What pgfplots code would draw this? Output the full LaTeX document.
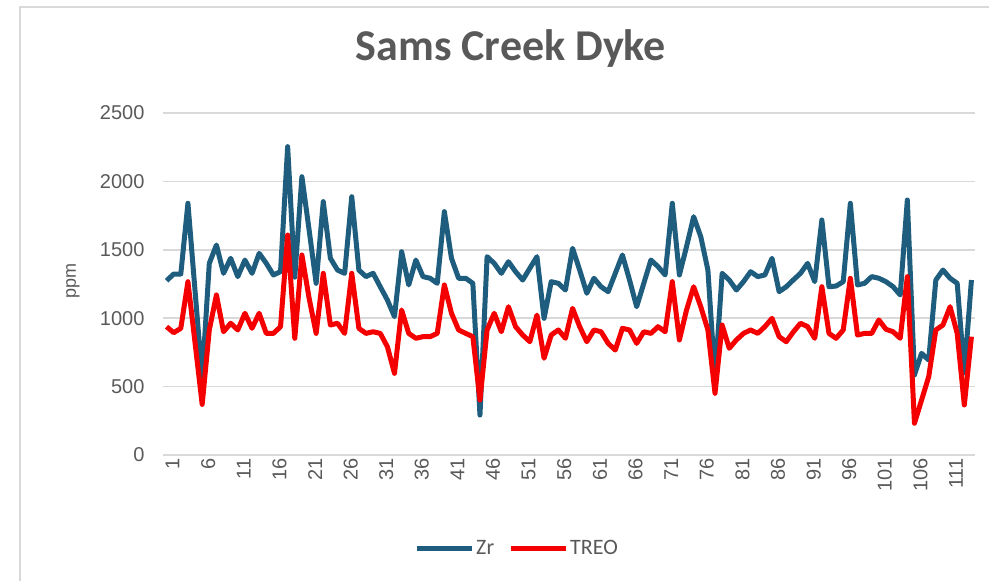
\documentclass[border=0pt]{standalone}
\usepackage{fontspec}
\setmainfont{Carlito}
\newfontfamily\tickfont{Liberation Sans}
\usepackage{pgfplots}
\pgfplotsset{compat=1.18}
\definecolor{zrblue}{RGB}{30,93,125}
\definecolor{treored}{RGB}{245,0,0}
\definecolor{txtgray}{RGB}{89,89,89}
\definecolor{gridgray}{RGB}{217,217,217}
\begin{document}
\begin{tikzpicture}
\path[use as bounding box] (0pt,0pt) rectangle (989pt,581pt);
\draw[line width=2.5pt, gridgray] (989pt,574pt) -- (20pt,574pt) -- (20pt,0pt);
\begin{axis}[
  at={(163pt,126pt)}, anchor=south west,
  scale only axis, width=812pt, height=342pt,
  xmin=0.5, xmax=114.5, ymin=0, ymax=2500,
  xtick={1,6,...,111}, ytick={0,500,...,2500},
  axis line style={draw=none},
  axis x line*=bottom,
  x axis line style={draw=gridgray, line width=1.5pt},
  tick style={draw=none},
  ymajorgrids, grid style={gridgray, line width=1.5pt},
  /pgf/number format/assume math mode=true,
  /pgf/number format/set thousands separator={},
  ticklabel style={font=\tickfont\fontsize{20}{24}\selectfont, text=txtgray},
  yticklabel style={xshift=-15pt},
  xticklabel style={rotate=90, anchor=east, yshift=-6pt},
  title={Sams Creek Dyke},
  title style={at={(0.4286,1.17)}, anchor=center, font=\fontsize{44}{50}\selectfont\bfseries, text=txtgray},
  ylabel={ppm},
  every axis y label/.style={at={(-0.111,0.51)}, rotate=90, anchor=center, font=\tickfont\fontsize{18}{22}\selectfont, text=txtgray},
  legend columns=2,
  legend image code/.code={\draw[#1, line width=5pt] (0pt,0pt) -- (55pt,0pt);},
  legend style={draw=none, fill=none, at={(0.436,-0.272)}, anchor=center,
    font=\fontsize{22}{26}\selectfont, text=txtgray,
    /tikz/every even column/.append style={column sep=12pt}},
]
\addplot[zrblue, line width=5pt, line join=round, mark=none] coordinates {
(1,1274)(2,1323)(3,1323)(4,1840)(5,1200)(6,560)(7,1401)(8,1535)(9,1328)(10,1438)
(11,1304)(12,1425)(13,1328)(14,1474)(15,1401)(16,1316)(17,1340)(18,2254)(19,1300)(20,2034)
(21,1650)(22,1255)(23,1852)(24,1438)(25,1352)(26,1328)(27,1888)(28,1352)(29,1304)(30,1328)
(31,1230)(32,1133)(33,1011)(34,1486)(35,1243)(36,1425)(37,1304)(38,1292)(39,1255)(40,1779)
(41,1438)(42,1292)(43,1292)(44,1255)(45,292)(46,1450)(47,1401)(48,1328)(49,1413)(50,1340)
(51,1279)(52,1365)(53,1450)(54,999)(55,1267)(56,1255)(57,1206)(58,1511)(59,1352)(60,1182)
(61,1292)(62,1230)(63,1194)(64,1328)(65,1462)(66,1279)(67,1084)(68,1255)(69,1425)(70,1377)
(71,1316)(72,1840)(73,1316)(74,1523)(75,1742)(76,1596)(77,1352)(78,560)(79,1328)(80,1279)
(81,1206)(82,1267)(83,1340)(84,1304)(85,1316)(86,1438)(87,1194)(88,1230)(89,1280)(90,1328)
(91,1401)(92,1267)(93,1718)(94,1230)(95,1235)(96,1267)(97,1840)(98,1243)(99,1255)(100,1304)
(101,1292)(102,1267)(103,1230)(104,1170)(105,1864)(106,585)(107,743)(108,694)(109,1279)(110,1352)
(111,1292)(112,1255)(113,600)(114,1279)
};
\addlegendentry{Zr}
\addplot[treored, line width=5pt, line join=round, mark=none] coordinates {
(1,938)(2,894)(3,926)(4,1267)(5,820)(6,370)(7,914)(8,1170)(9,901)(10,963)
(11,914)(12,1036)(13,926)(14,1036)(15,889)(16,889)(17,938)(18,1608)(19,853)(20,1462)
(21,1150)(22,889)(23,1328)(24,950)(25,963)(26,889)(27,1328)(28,926)(29,889)(30,901)
(31,889)(32,792)(33,597)(34,1060)(35,889)(36,853)(37,865)(38,865)(39,889)(40,1243)
(41,1036)(42,914)(43,889)(44,865)(45,402)(46,914)(47,1036)(48,901)(49,1084)(50,938)
(51,877)(52,828)(53,1023)(54,707)(55,877)(56,914)(57,853)(58,1072)(59,938)(60,828)
(61,914)(62,901)(63,816)(64,767)(65,926)(66,914)(67,816)(68,901)(69,889)(70,938)
(71,901)(72,1267)(73,841)(74,1060)(75,1230)(76,1084)(77,914)(78,451)(79,950)(80,780)
(81,841)(82,889)(83,914)(84,889)(85,938)(86,999)(87,865)(88,828)(89,900)(90,963)
(91,938)(92,853)(93,1230)(94,889)(95,853)(96,914)(97,1292)(98,877)(99,889)(100,889)
(101,987)(102,919)(103,901)(104,853)(105,1304)(106,232)(107,402)(108,572)(109,914)(110,950)
(111,1084)(112,889)(113,366)(114,865)
};
\addlegendentry{TREO}
\end{axis}
\end{tikzpicture}
\end{document}
